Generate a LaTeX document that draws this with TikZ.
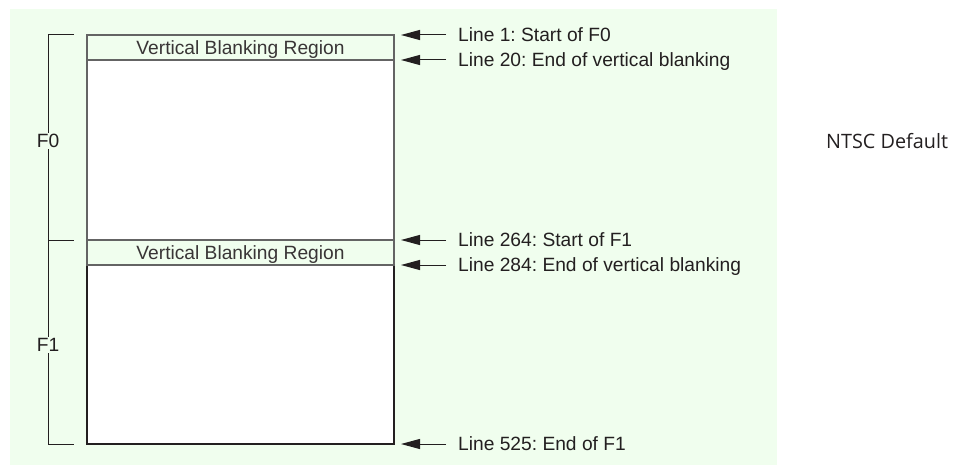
\documentclass[tikz,border=0pt]{standalone}
\usepackage{fontspec}
\setmainfont{Liberation Sans}
\newfontfamily\ntscfont{Open Sans}
\usetikzlibrary{arrows.meta, positioning}
\definecolor{bgGreen}{RGB}{240,254,238}
\definecolor{lineDark}{RGB}{35,31,32}
\definecolor{lineGray}{RGB}{100,100,100}
\frenchspacing

\begin{document}
\begin{tikzpicture}[x=1pt, y=-1pt,
  lbl/.style={anchor=west, inner xsep=12pt, inner ysep=0pt, text height=13.6pt,
    text depth=0pt, font=\fontsize{19.2}{21}\selectfont, text=lineDark},
  blank/.style={draw=lineGray, line width=1.2pt, fill=bgGreen, minimum width=307pt,
    minimum height=25pt, inner sep=0pt, text height=13.6pt, text depth=0pt,
    font=\fontsize{19.2}{21}\selectfont, text=lineDark!90},
  field/.style={fill=bgGreen, inner sep=1pt, text height=13.6pt, text depth=0pt,
    font=\fontsize{19.2}{21}\selectfont, text=lineDark},
  ptr/.style={-{Triangle[length=19pt, width=10pt]}, lineDark, line width=1pt}]
  \useasboundingbox (0,0) rectangle (957,465);
  % Fond
  \fill[bgGreen] (10,9) rectangle (777,465);
  % Champs F0 et F1
  \fill[white] (87,35) rectangle (394,444);
  \draw[lineGray, line width=1.2pt] (87,35) rectangle (394,240);
  \draw[lineDark, line width=1.5pt] (87,265) rectangle (394,444);
  \node[blank] (vb0) at (240.5,47.5) {Vertical Blanking Region};
  \node[blank] (vb1) at (240.5,252.5) {Vertical Blanking Region};
  % Accolade
  \draw[lineDark, line width=1pt] (74,35) -- (48,35) -- (48,444) -- (74,444);
  \draw[lineDark, line width=1pt] (48,240) -- (74,240);
  \node[field] (f0) at (48,141) {F0};
  \node[field] (f1) at (48,345) {F1};
  % Lignes
  \coordinate (p1) at (401,35);
  \coordinate (p20) at (401,60);
  \coordinate (p264) at (401,240);
  \coordinate (p284) at (401,265);
  \coordinate (p525) at (401,444);
  \node[lbl] (t1) at (446,35) {Line 1: Start of F0};
  \node[lbl] (t20) at (446,60) {Line 20: End of vertical blanking};
  \node[lbl] (t264) at (446,240) {Line 264: Start of F1};
  \node[lbl] (t284) at (446,265) {Line 284: End of vertical blanking};
  \node[lbl] (t525) at (446,444) {Line 525: End of F1};
  \draw[ptr] (t1.west) -- (p1);
  \draw[ptr] (t20.west) -- (p20);
  \draw[ptr] (t264.west) -- (p264);
  \draw[ptr] (t284.west) -- (p284);
  \draw[ptr] (t525.west) -- (p525);
  % Titre
  \node[anchor=west, inner sep=0pt, text height=14.1pt, text depth=0pt,
    font=\ntscfont\fontsize{19.8}{22}\selectfont, text=lineDark] (ntsc) at (826,141.3) {NTSC Default};
\end{tikzpicture}
\end{document}
